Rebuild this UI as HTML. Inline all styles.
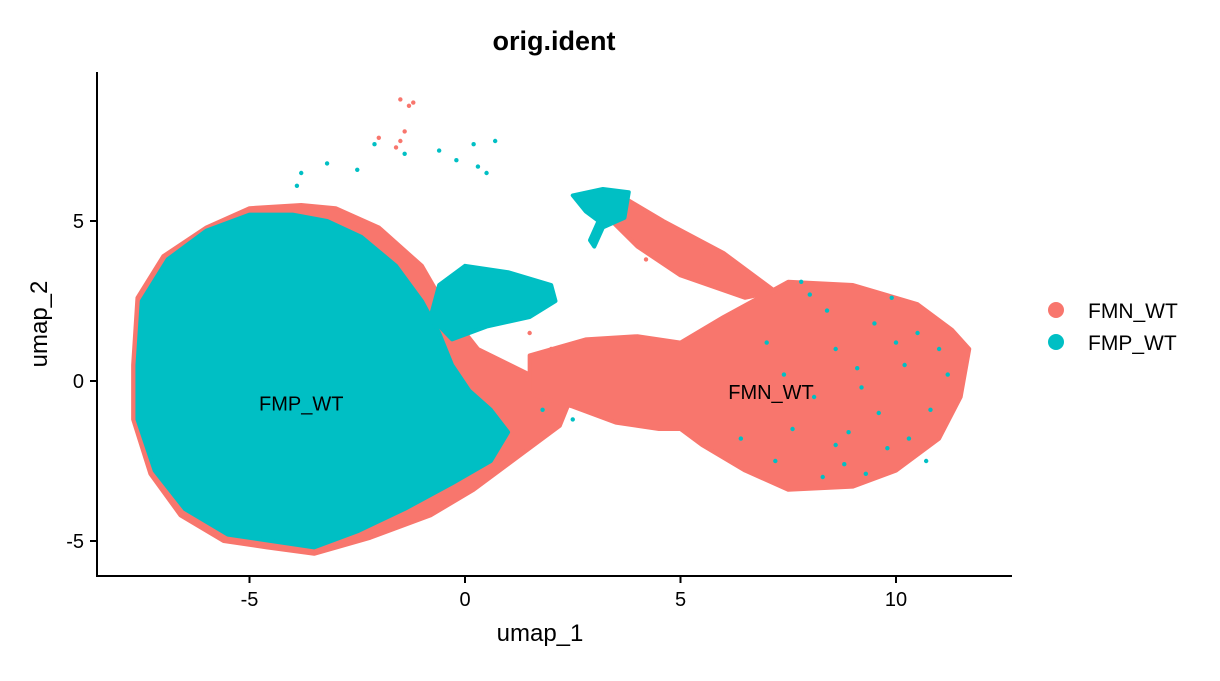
<!DOCTYPE html>
<html><head><meta charset="utf-8"><style>
body{margin:0;background:#fff}
text{font-family:"Liberation Sans",sans-serif}
</style></head><body>
<svg id="c" width="1220" height="676"></svg>
<script>
// outlines (UMAP data coordinates)
const redFringe=[[-7.7,0.5],[-7.6,2.6],[-7,3.9],[-6,4.8],[-5,5.4],[-3.8,5.5],[-3,5.4],[-2,4.8],[-1.0,3.6],[-0.4,2.2],[0.3,1],[1.5,0.2],[2.5,-0.4],[2.2,-1.4],[1.2,-2.4],[0.2,-3.4],[-0.8,-4.2],[-2.2,-4.9],[-3.5,-5.4],[-4.6,-5.2],[-5.6,-5],[-6.6,-4.2],[-7.3,-2.9],[-7.7,-1.2]];
const blueMain=[[-7.6,0.5],[-7.5,2.5],[-6.9,3.8],[-6,4.7],[-5,5.2],[-4,5.2],[-3.2,5],[-2.4,4.5],[-1.6,3.6],[-1.0,2.5],[-0.6,1.5],[-0.3,0.5],[0.1,-0.3],[0.6,-0.9],[1.0,-1.6],[0.6,-2.5],[-0.3,-3.2],[-1.4,-4],[-2.5,-4.7],[-3.5,-5.2],[-4.5,-5],[-5.5,-4.8],[-6.5,-4],[-7.2,-2.8],[-7.6,-1.2]];
const redRight=[[1.5,0.8],[2.8,1.3],[4,1.4],[5,1.2],[6,2],[7.5,3.1],[9,3],[10.5,2.4],[11.3,1.6],[11.7,1],[11.5,-0.5],[11,-1.8],[10,-2.8],[9,-3.3],[7.5,-3.4],[6.5,-2.8],[5.5,-2],[5,-1.5],[4.5,-1.5],[3.5,-1.3],[2.5,-0.8],[1.5,-0.4]];
const redStreak=[[3.6,5.8],[4.6,5],[6,4],[7.2,2.8],[6.5,2.6],[5,3.3],[4,4.2],[3.4,5]];
const blueSmall=[[-0.6,3],[0,3.6],[1,3.4],[2,3],[2.1,2.5],[1.5,2],[0.5,1.7],[-0.3,1.3],[-0.8,2]];
const blueTop=[[2.5,5.8],[3.2,6],[3.8,5.9],[3.7,5.1],[3.2,4.8],[3,4.2],[2.9,4.4],[3.1,5.0],[2.8,5.3]];
const redPts=[[-1.5,8.8],[-1.2,8.7],[-1.3,8.6],[-1.4,7.8],[-1.6,7.3],[-2,7.6],[-1.5,7.5],[1.5,1.5],[2,1],[4.2,3.8],[5.5,3.6],[6.2,3]];
const bluePts=[[-3.8,6.5],[-3.2,6.8],[-2.5,6.6],[-2.1,7.4],[-1.4,7.1],[-0.6,7.2],[0.2,7.4],[0.7,7.5],[0.3,6.7],[0.5,6.5],[-3.9,6.1],[-0.2,6.9],
[7.8,3.1],[8.4,2.2],[9.5,1.8],[10.2,0.5],[10.8,-0.9],[9.8,-2.1],[8.8,-2.6],[7.6,-1.5],[7.2,-2.5],[8.1,-0.5],[9.1,0.4],[10.5,1.5],[11.2,0.2],[8.6,1],[7,1.2],[9.6,-1],[10.3,-1.8],[8.3,-3],[11,1],[6.4,-1.8],[9.9,2.6],[8,2.7],[9.3,-2.9],[10.7,-2.5],[7.4,0.2],[8.9,-1.6],[2.5,-1.2],[1.8,-0.9],[9.2,-0.2],[10,1.2],[8.6,-2]];
const xTicks=[-5,0,5,10];
const yTicks=[-5,0,5];
const legendNames=["FMN_WT","FMP_WT"];
const X0=465,XS=43.1,Y0=381,YS=32;
const sx=v=>X0+v*XS, sy=v=>Y0-v*YS;
const RED="#F8766D",BLUE="#00BFC4";
const svg=document.getElementById('c'),NS="http://www.w3.org/2000/svg";
function mk(t,a,p){const e=document.createElementNS(NS,t);for(const k in a)e.setAttribute(k,a[k]);(p||svg).appendChild(e);return e;}
function poly(arr,col,name){const e=mk('polygon',{points:arr.map(p=>sx(p[0])+','+sy(p[1])).join(' '),fill:col,stroke:col,'stroke-width':4,'stroke-linejoin':'round'});

}
poly(redFringe,RED,'fmn-fringe-region');
poly(redRight,RED,'fmn-main-cluster');
poly(redStreak,RED,'fmn-streak-region');
poly(blueMain,BLUE,'fmp-main-cluster');
poly(blueSmall,BLUE,'fmp-small-cluster');
poly(blueTop,BLUE,'fmp-top-cluster');
redPts.forEach(p=>{const e=mk('circle',{cx:sx(p[0]),cy:sy(p[1]),r:2.2,fill:RED});

});
bluePts.forEach(p=>{const e=mk('circle',{cx:sx(p[0]),cy:sy(p[1]),r:2.2,fill:BLUE});

});
[["FMP_WT",-3.8,-0.7],["FMN_WT",7.1,-0.35]].forEach(l=>{const e=mk('text',{x:sx(l[1]),y:sy(l[2])+7,'text-anchor':'middle','font-size':20,fill:'#000'});e.textContent=l[0];

});
let a=mk('line',{x1:97,y1:72,x2:97,y2:577,stroke:'#000','stroke-width':2});


a=mk('line',{x1:96,y1:576,x2:1012,y2:576,stroke:'#000','stroke-width':2});


xTicks.forEach(v=>{mk('line',{x1:sx(v),y1:576,x2:sx(v),y2:583,stroke:'#000','stroke-width':2});
const t=mk('text',{x:sx(v),y:606,'text-anchor':'middle','font-size':20,fill:'#000'});t.textContent=v;

});
yTicks.forEach(v=>{mk('line',{x1:90,y1:sy(v),x2:97,y2:sy(v),stroke:'#000','stroke-width':2});
const t=mk('text',{x:84,y:sy(v)+7,'text-anchor':'end','font-size':20,fill:'#000'});t.textContent=v;

});
let t=mk('text',{x:554,y:50,'text-anchor':'middle','font-size':27,'font-weight':'bold',fill:'#000'});t.textContent='orig.ident';


t=mk('text',{x:540,y:641,'text-anchor':'middle','font-size':24,fill:'#000'});t.textContent='umap_1';


t=mk('text',{x:0,y:0,'text-anchor':'middle','font-size':24,fill:'#000',transform:'translate(47,324) rotate(-90)'});t.textContent='umap_2';


legendNames.forEach((n,i)=>{const g=mk('g',{});


mk('circle',{cx:1056,cy:310+i*32,r:8,fill:i?BLUE:RED},g);
const tt=mk('text',{x:1088,y:318+i*32,'font-size':21,fill:'#000'},g);tt.textContent=n;});
</script>
</body></html>
